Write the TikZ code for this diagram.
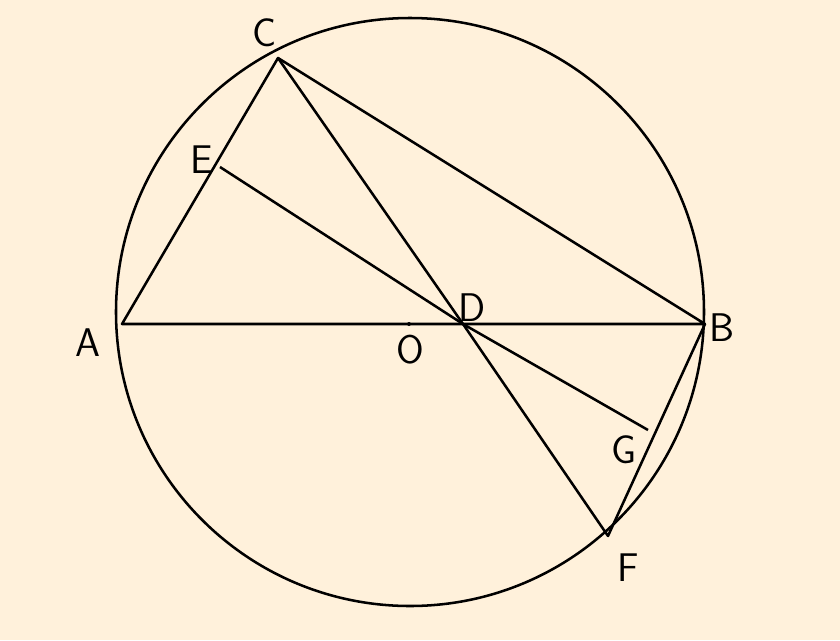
\documentclass[tikz,border=0pt]{standalone}
\usepackage{amsmath}
\usepackage{tikz}
\definecolor{paper}{RGB}{255,241,219}
\tikzset{pt/.style={font=\fontsize{30}{30}\selectfont\sffamily}}

\begin{document}
\begin{tikzpicture}[x=0.75pt,y=0.75pt,yscale=-1,xscale=1,line width=1.9pt,line join=round]
        \fill[paper] (0,0) rectangle (840,640);
        \useasboundingbox (0,0) rectangle (840,640);
        \coordinate (O) at (409,324);
        \coordinate (A) at (122,324);
        \coordinate (B) at (705,324);
        \coordinate (C) at (278,58);
        \coordinate (D) at (463,324);
        \coordinate (E) at (220,167);
        \coordinate (G) at (648,430);
        \coordinate (F) at (608,536);
        \draw (410,312) circle (294);
        \fill (O) circle (2);
        \draw (A)--(C)--(B)--cycle;
        \draw (C)--(D)--(F)--(B);
        \draw (E)--(D)--(G);
        \node[pt] (lC) at (265,33) {C};
        \node[pt] (lE) at (202,160) {E};
        \node[pt] (lA) at (88,343) {A};
        \node[pt] (lO) at (410,350) {O};
        \node[pt] (lD) at (472,308) {D};
        \node[pt] (lB) at (722,328) {B};
        \node[pt] (lG) at (624,450) {G};
        \node[pt] (lF) at (628,568) {F};
    \end{tikzpicture}
\end{document}
